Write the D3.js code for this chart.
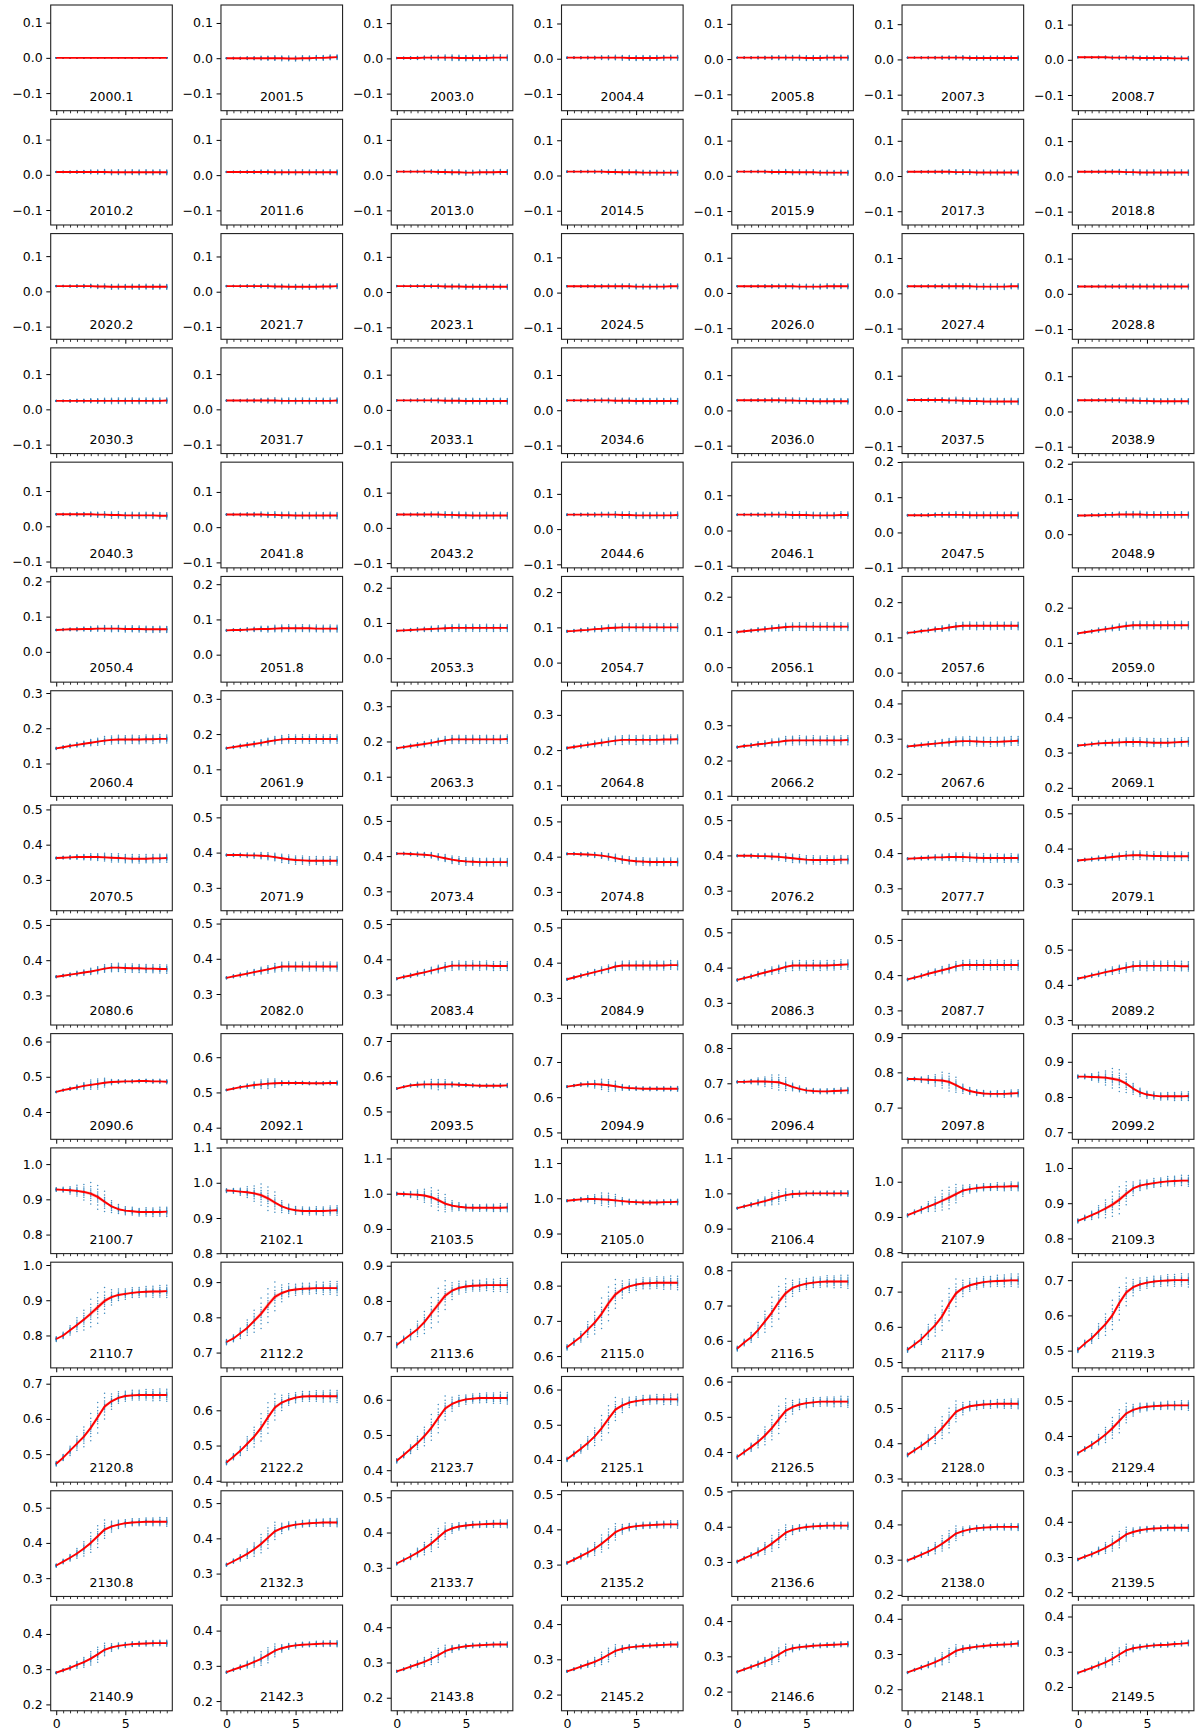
<!DOCTYPE html>
<html>
<head>
<meta charset="utf-8">
<script src="https://cdn.jsdelivr.net/npm/d3@7"></script>
<style>
  html, body { margin: 0; padding: 0; background: #fff; }
  svg { display: block; }
</style>
</head>
<body>
<script>
// ---- data -------------------------------------------------------------
const panelLabels = [
  "2000.1","2001.5","2003.0","2004.4","2005.8","2007.3","2008.7",
  "2010.2","2011.6","2013.0","2014.5","2015.9","2017.3","2018.8",
  "2020.2","2021.7","2023.1","2024.5","2026.0","2027.4","2028.8",
  "2030.3","2031.7","2033.1","2034.6","2036.0","2037.5","2038.9",
  "2040.3","2041.8","2043.2","2044.6","2046.1","2047.5","2048.9",
  "2050.4","2051.8","2053.3","2054.7","2056.1","2057.6","2059.0",
  "2060.4","2061.9","2063.3","2064.8","2066.2","2067.6","2069.1",
  "2070.5","2071.9","2073.4","2074.8","2076.2","2077.7","2079.1",
  "2080.6","2082.0","2083.4","2084.9","2086.3","2087.7","2089.2",
  "2090.6","2092.1","2093.5","2094.9","2096.4","2097.8","2099.2",
  "2100.7","2102.1","2103.5","2105.0","2106.4","2107.9","2109.3",
  "2110.7","2112.2","2113.6","2115.0","2116.5","2117.9","2119.3",
  "2120.8","2122.2","2123.7","2125.1","2126.5","2128.0","2129.4",
  "2130.8","2132.3","2133.7","2135.2","2136.6","2138.0","2139.5",
  "2140.9","2142.3","2143.8","2145.2","2146.6","2148.1","2149.5"
];

const xValues = [0, 0.5, 1, 1.5, 2, 2.5, 3, 3.5, 4, 4.5, 5, 5.5, 6, 6.5, 7, 7.5, 8];
const xMajorTicks = [0, 5];

// mean curve of each panel, one value per x
const curveValues = [
  [0,0,0,0,0,0,0,0,0,0,0,0,0,0,0,0,0],
  [0,0,0,0,0,0,0,0,0,-0.001,-0.001,0,0,0.001,0.001,0.002,0.003],
  [0.001,0.001,0.001,0.001,0.002,0.002,0.002,0.002,0.002,0.001,0.001,0.001,0.001,0.001,0.002,0.002,0.002],
  [0.003,0.003,0.003,0.003,0.003,0.003,0.003,0.003,0.003,0.002,0.002,0.002,0.002,0.002,0.003,0.003,0.003],
  [0.004,0.004,0.004,0.004,0.004,0.004,0.004,0.004,0.004,0.004,0.003,0.003,0.003,0.004,0.004,0.004,0.004],
  [0.005,0.005,0.005,0.005,0.005,0.005,0.005,0.005,0.005,0.004,0.004,0.004,0.004,0.004,0.004,0.004,0.004],
  [0.007,0.007,0.007,0.007,0.007,0.006,0.006,0.006,0.006,0.005,0.005,0.005,0.005,0.005,0.004,0.004,0.004],

  [0.008,0.008,0.008,0.008,0.008,0.008,0.008,0.008,0.007,0.007,0.007,0.007,0.007,0.007,0.007,0.007,0.007],
  [0.009,0.009,0.009,0.009,0.009,0.009,0.009,0.008,0.008,0.008,0.008,0.008,0.008,0.008,0.008,0.008,0.008],
  [0.010,0.010,0.010,0.010,0.010,0.010,0.009,0.009,0.008,0.008,0.007,0.007,0.008,0.008,0.008,0.009,0.009],
  [0.011,0.011,0.011,0.011,0.011,0.011,0.010,0.010,0.009,0.009,0.009,0.008,0.008,0.008,0.008,0.008,0.008],
  [0.012,0.012,0.012,0.012,0.012,0.011,0.011,0.011,0.010,0.010,0.010,0.010,0.009,0.009,0.009,0.009,0.009],
  [0.012,0.012,0.012,0.012,0.012,0.012,0.012,0.011,0.011,0.011,0.010,0.010,0.010,0.010,0.010,0.010,0.010],
  [0.013,0.013,0.013,0.013,0.013,0.013,0.013,0.012,0.012,0.011,0.011,0.011,0.011,0.011,0.011,0.011,0.011],

  [0.015,0.015,0.015,0.015,0.015,0.015,0.014,0.014,0.013,0.013,0.013,0.013,0.013,0.013,0.013,0.013,0.013],
  [0.016,0.016,0.016,0.016,0.016,0.016,0.016,0.015,0.015,0.014,0.014,0.014,0.014,0.014,0.015,0.015,0.016],
  [0.017,0.017,0.017,0.017,0.017,0.017,0.017,0.016,0.016,0.016,0.015,0.015,0.015,0.015,0.015,0.015,0.015],
  [0.018,0.018,0.018,0.018,0.018,0.018,0.018,0.018,0.018,0.018,0.017,0.017,0.017,0.017,0.017,0.018,0.018],
  [0.019,0.019,0.019,0.019,0.019,0.019,0.019,0.019,0.019,0.018,0.018,0.018,0.018,0.019,0.019,0.019,0.019],
  [0.020,0.020,0.020,0.020,0.020,0.020,0.020,0.020,0.020,0.020,0.019,0.019,0.019,0.019,0.019,0.020,0.020],
  [0.021,0.021,0.021,0.021,0.021,0.021,0.021,0.021,0.021,0.021,0.021,0.021,0.021,0.021,0.021,0.021,0.021],

  [0.024,0.024,0.024,0.024,0.024,0.024,0.024,0.024,0.024,0.024,0.024,0.024,0.024,0.024,0.024,0.024,0.025],
  [0.025,0.025,0.025,0.025,0.025,0.025,0.025,0.025,0.024,0.024,0.024,0.024,0.024,0.024,0.024,0.024,0.025],
  [0.027,0.027,0.027,0.027,0.027,0.027,0.027,0.026,0.026,0.026,0.025,0.025,0.025,0.025,0.025,0.025,0.025],
  [0.028,0.028,0.028,0.028,0.028,0.028,0.028,0.027,0.027,0.027,0.026,0.026,0.026,0.026,0.026,0.026,0.026],
  [0.029,0.029,0.029,0.029,0.029,0.029,0.029,0.028,0.028,0.027,0.027,0.026,0.026,0.026,0.026,0.026,0.026],
  [0.031,0.031,0.031,0.031,0.031,0.031,0.030,0.030,0.029,0.028,0.028,0.027,0.027,0.027,0.027,0.027,0.027],
  [0.032,0.032,0.032,0.032,0.032,0.032,0.032,0.031,0.031,0.030,0.030,0.029,0.029,0.029,0.029,0.029,0.029],

  [0.034,0.034,0.034,0.034,0.034,0.034,0.033,0.033,0.032,0.032,0.031,0.031,0.031,0.031,0.031,0.030,0.030],
  [0.036,0.036,0.036,0.036,0.036,0.036,0.035,0.035,0.034,0.034,0.033,0.033,0.033,0.033,0.033,0.033,0.033],
  [0.038,0.038,0.038,0.038,0.038,0.038,0.038,0.037,0.037,0.036,0.036,0.035,0.035,0.035,0.035,0.035,0.035],
  [0.041,0.041,0.041,0.041,0.041,0.041,0.041,0.041,0.040,0.040,0.039,0.039,0.039,0.039,0.039,0.039,0.040],
  [0.045,0.045,0.045,0.045,0.045,0.045,0.045,0.045,0.044,0.044,0.044,0.043,0.043,0.043,0.043,0.044,0.044],
  [0.049,0.049,0.049,0.049,0.050,0.050,0.050,0.050,0.050,0.049,0.049,0.049,0.049,0.049,0.049,0.049,0.049],
  [0.053,0.053,0.054,0.054,0.055,0.055,0.056,0.056,0.056,0.056,0.055,0.055,0.055,0.055,0.055,0.055,0.055],

  [0.062,0.063,0.064,0.064,0.065,0.065,0.066,0.066,0.066,0.066,0.065,0.065,0.065,0.064,0.064,0.064,0.064],
  [0.069,0.070,0.070,0.071,0.072,0.073,0.073,0.074,0.075,0.075,0.075,0.075,0.075,0.074,0.074,0.074,0.074],
  [0.078,0.079,0.080,0.081,0.082,0.083,0.084,0.085,0.086,0.086,0.086,0.086,0.086,0.086,0.086,0.086,0.086],
  [0.089,0.090,0.092,0.093,0.095,0.096,0.098,0.099,0.100,0.100,0.100,0.100,0.100,0.100,0.100,0.100,0.100],
  [0.100,0.102,0.104,0.106,0.108,0.110,0.112,0.114,0.115,0.115,0.115,0.115,0.115,0.115,0.115,0.115,0.115],
  [0.113,0.115,0.118,0.120,0.123,0.125,0.128,0.131,0.133,0.133,0.133,0.133,0.133,0.133,0.133,0.133,0.133],
  [0.127,0.130,0.133,0.136,0.139,0.142,0.145,0.148,0.150,0.150,0.150,0.150,0.150,0.150,0.150,0.150,0.150],

  [0.143,0.146,0.150,0.153,0.156,0.159,0.162,0.165,0.167,0.168,0.168,0.168,0.168,0.169,0.169,0.170,0.170],
  [0.160,0.163,0.166,0.169,0.172,0.175,0.179,0.182,0.185,0.186,0.186,0.186,0.186,0.186,0.186,0.186,0.186],
  [0.181,0.184,0.187,0.190,0.193,0.196,0.200,0.203,0.206,0.206,0.206,0.206,0.206,0.206,0.206,0.206,0.207],
  [0.206,0.209,0.212,0.215,0.218,0.221,0.224,0.227,0.229,0.229,0.229,0.229,0.229,0.229,0.230,0.230,0.231],
  [0.238,0.241,0.243,0.246,0.248,0.251,0.253,0.256,0.257,0.257,0.257,0.257,0.257,0.257,0.257,0.257,0.258],
  [0.278,0.280,0.282,0.284,0.286,0.288,0.290,0.292,0.293,0.293,0.292,0.291,0.291,0.291,0.292,0.293,0.294],
  [0.320,0.322,0.324,0.326,0.327,0.328,0.329,0.330,0.330,0.330,0.329,0.328,0.328,0.328,0.329,0.330,0.331],

  [0.362,0.363,0.364,0.365,0.365,0.365,0.365,0.364,0.363,0.362,0.361,0.360,0.360,0.360,0.361,0.361,0.362],
  [0.393,0.393,0.393,0.392,0.392,0.391,0.390,0.387,0.384,0.381,0.379,0.378,0.377,0.377,0.377,0.377,0.377],
  [0.407,0.407,0.406,0.405,0.404,0.402,0.398,0.394,0.390,0.387,0.385,0.384,0.383,0.383,0.383,0.383,0.383],
  [0.408,0.408,0.407,0.406,0.405,0.403,0.400,0.396,0.392,0.389,0.387,0.386,0.385,0.385,0.385,0.385,0.385],
  [0.399,0.399,0.399,0.398,0.398,0.397,0.396,0.394,0.392,0.390,0.388,0.387,0.387,0.387,0.387,0.388,0.388],
  [0.384,0.385,0.386,0.387,0.388,0.388,0.389,0.389,0.389,0.388,0.387,0.386,0.386,0.386,0.386,0.386,0.386],
  [0.366,0.368,0.370,0.372,0.374,0.376,0.378,0.380,0.381,0.381,0.380,0.379,0.379,0.378,0.378,0.378,0.378],

  [0.353,0.356,0.359,0.362,0.365,0.368,0.372,0.376,0.379,0.379,0.378,0.377,0.377,0.376,0.376,0.375,0.375],
  [0.346,0.350,0.354,0.358,0.362,0.366,0.370,0.374,0.378,0.378,0.378,0.378,0.378,0.378,0.378,0.378,0.378],
  [0.345,0.350,0.354,0.359,0.363,0.368,0.373,0.378,0.382,0.382,0.382,0.382,0.382,0.382,0.381,0.381,0.381],
  [0.353,0.358,0.363,0.368,0.373,0.378,0.383,0.389,0.392,0.392,0.392,0.392,0.392,0.392,0.392,0.393,0.393],
  [0.365,0.370,0.375,0.381,0.386,0.391,0.396,0.402,0.406,0.406,0.406,0.406,0.406,0.406,0.407,0.408,0.409],
  [0.388,0.393,0.398,0.404,0.409,0.414,0.419,0.425,0.429,0.429,0.429,0.429,0.429,0.429,0.429,0.429,0.429],
  [0.418,0.422,0.427,0.431,0.436,0.440,0.445,0.449,0.453,0.454,0.454,0.454,0.454,0.454,0.454,0.453,0.453],

  [0.457,0.462,0.466,0.470,0.474,0.477,0.480,0.483,0.485,0.486,0.487,0.487,0.488,0.488,0.487,0.487,0.486],
  [0.507,0.511,0.515,0.518,0.521,0.523,0.525,0.526,0.527,0.527,0.527,0.527,0.526,0.526,0.526,0.527,0.527],
  [0.565,0.570,0.574,0.576,0.577,0.577,0.577,0.577,0.577,0.576,0.575,0.574,0.573,0.573,0.573,0.573,0.574],
  [0.630,0.633,0.636,0.637,0.637,0.636,0.634,0.631,0.628,0.626,0.625,0.624,0.624,0.624,0.624,0.624,0.624],
  [0.704,0.704,0.705,0.705,0.705,0.704,0.703,0.697,0.690,0.684,0.680,0.678,0.677,0.677,0.678,0.679,0.680],
  [0.781,0.781,0.780,0.779,0.778,0.777,0.773,0.764,0.754,0.747,0.743,0.740,0.739,0.739,0.739,0.740,0.741],
  [0.858,0.858,0.857,0.856,0.855,0.852,0.848,0.838,0.824,0.813,0.807,0.804,0.802,0.802,0.802,0.802,0.803],

  [0.928,0.927,0.926,0.924,0.921,0.916,0.907,0.893,0.880,0.872,0.868,0.866,0.864,0.864,0.864,0.864,0.865],
  [0.978,0.977,0.975,0.973,0.970,0.965,0.956,0.944,0.933,0.926,0.922,0.920,0.920,0.920,0.920,0.921,0.922],
  [1.000,0.999,0.998,0.997,0.995,0.990,0.982,0.972,0.966,0.963,0.961,0.960,0.960,0.960,0.960,0.960,0.961],
  [0.993,0.995,0.997,0.998,0.998,0.997,0.996,0.994,0.992,0.990,0.989,0.988,0.988,0.988,0.989,0.989,0.990],
  [0.958,0.963,0.968,0.973,0.978,0.984,0.990,0.995,0.998,0.999,1.000,1.000,1.000,1.000,1.000,1.000,1.000],
  [0.905,0.913,0.921,0.929,0.937,0.946,0.955,0.965,0.975,0.979,0.982,0.984,0.985,0.986,0.986,0.987,0.987],
  [0.850,0.858,0.866,0.875,0.885,0.896,0.910,0.927,0.942,0.950,0.954,0.957,0.960,0.962,0.963,0.964,0.964],

  [0.790,0.800,0.815,0.830,0.845,0.862,0.880,0.898,0.909,0.915,0.918,0.921,0.923,0.924,0.925,0.925,0.926],
  [0.730,0.740,0.755,0.770,0.790,0.810,0.835,0.858,0.869,0.876,0.879,0.881,0.882,0.883,0.883,0.883,0.883],
  [0.675,0.690,0.705,0.720,0.740,0.765,0.790,0.815,0.829,0.837,0.841,0.843,0.844,0.845,0.845,0.845,0.845],
  [0.625,0.640,0.655,0.675,0.695,0.720,0.750,0.775,0.790,0.798,0.803,0.806,0.807,0.808,0.808,0.808,0.808],
  [0.578,0.595,0.610,0.630,0.655,0.680,0.710,0.735,0.750,0.757,0.762,0.765,0.767,0.768,0.768,0.768,0.768],
  [0.535,0.550,0.565,0.585,0.605,0.630,0.665,0.695,0.710,0.718,0.723,0.727,0.729,0.730,0.731,0.732,0.732],
  [0.502,0.520,0.535,0.555,0.575,0.600,0.635,0.665,0.680,0.688,0.693,0.696,0.698,0.699,0.700,0.700,0.700],

  [0.473,0.490,0.510,0.530,0.550,0.575,0.605,0.635,0.650,0.660,0.665,0.667,0.668,0.668,0.668,0.668,0.668],
  [0.452,0.468,0.485,0.505,0.525,0.550,0.580,0.608,0.622,0.630,0.636,0.639,0.640,0.640,0.640,0.640,0.640],
  [0.427,0.443,0.460,0.477,0.497,0.520,0.548,0.575,0.588,0.596,0.601,0.603,0.605,0.605,0.605,0.605,0.605],
  [0.402,0.417,0.432,0.448,0.467,0.490,0.517,0.543,0.555,0.563,0.567,0.570,0.572,0.572,0.572,0.572,0.572],
  [0.386,0.400,0.414,0.429,0.447,0.468,0.493,0.517,0.528,0.535,0.539,0.541,0.543,0.543,0.543,0.543,0.543],
  [0.367,0.380,0.393,0.407,0.423,0.443,0.466,0.489,0.499,0.505,0.508,0.510,0.511,0.512,0.512,0.512,0.512],
  [0.351,0.363,0.375,0.389,0.404,0.422,0.443,0.464,0.474,0.480,0.483,0.485,0.486,0.487,0.487,0.487,0.487],

  [0.336,0.347,0.358,0.370,0.384,0.400,0.419,0.438,0.447,0.452,0.456,0.458,0.459,0.460,0.460,0.460,0.460],
  [0.325,0.335,0.345,0.356,0.369,0.384,0.402,0.420,0.429,0.435,0.439,0.441,0.443,0.444,0.445,0.445,0.445],
  [0.312,0.322,0.332,0.343,0.355,0.369,0.386,0.403,0.412,0.417,0.420,0.422,0.423,0.424,0.425,0.425,0.425],
  [0.305,0.314,0.324,0.334,0.345,0.359,0.375,0.392,0.401,0.406,0.409,0.411,0.412,0.413,0.414,0.414,0.414],
  [0.301,0.310,0.319,0.328,0.339,0.352,0.367,0.383,0.391,0.396,0.399,0.401,0.402,0.403,0.403,0.403,0.403],
  [0.298,0.306,0.314,0.323,0.333,0.345,0.359,0.374,0.381,0.386,0.389,0.391,0.392,0.393,0.393,0.393,0.393],
  [0.293,0.301,0.308,0.317,0.326,0.337,0.350,0.364,0.371,0.376,0.379,0.381,0.382,0.383,0.383,0.383,0.383],

  [0.290,0.297,0.304,0.312,0.320,0.330,0.342,0.355,0.362,0.366,0.369,0.371,0.372,0.373,0.374,0.374,0.374],
  [0.282,0.289,0.296,0.303,0.311,0.320,0.331,0.343,0.350,0.355,0.358,0.360,0.361,0.362,0.363,0.363,0.363],
  [0.275,0.281,0.288,0.295,0.302,0.311,0.321,0.332,0.339,0.343,0.346,0.348,0.349,0.350,0.351,0.351,0.351],
  [0.266,0.272,0.279,0.286,0.293,0.302,0.313,0.324,0.330,0.334,0.336,0.338,0.339,0.340,0.341,0.342,0.342],
  [0.256,0.263,0.270,0.277,0.285,0.294,0.305,0.317,0.323,0.326,0.328,0.330,0.331,0.332,0.333,0.334,0.335],
  [0.248,0.255,0.262,0.269,0.277,0.286,0.297,0.309,0.315,0.318,0.321,0.323,0.325,0.326,0.327,0.328,0.330],
  [0.240,0.247,0.254,0.262,0.270,0.280,0.292,0.304,0.310,0.313,0.316,0.318,0.319,0.320,0.322,0.323,0.325]
];

// half-width of the sample cloud in each panel
const spreadScale = [
  0.000,0.007,0.008,0.007,0.007,0.006,0.006,
  0.007,0.007,0.007,0.007,0.007,0.007,0.008,
  0.007,0.007,0.007,0.007,0.007,0.008,0.007,
  0.008,0.008,0.008,0.008,0.008,0.009,0.008,
  0.009,0.009,0.009,0.009,0.009,0.009,0.009,
  0.009,0.010,0.010,0.011,0.011,0.011,0.011,
  0.012,0.012,0.012,0.013,0.013,0.013,0.012,
  0.012,0.012,0.011,0.011,0.012,0.012,0.012,
  0.012,0.013,0.013,0.013,0.014,0.014,0.014,
  0.015,0.014,0.015,0.017,0.022,0.026,0.032,
  0.035,0.035,0.030,0.020,0.020,0.032,0.040,
  0.045,0.050,0.050,0.050,0.048,0.048,0.048,
  0.045,0.045,0.042,0.040,0.040,0.036,0.034,
  0.032,0.030,0.028,0.028,0.026,0.025,0.024,
  0.022,0.022,0.020,0.020,0.020,0.020,0.020
];

// which spread profile each row of panels follows
const rowSpreadKind = ["flat","flat","flat","flat","flat","flat","flat","flat","flat",
                       "shift","shift","shift","shift","shift","shift"];
const flatSpreadProfile  = [0.25,0.35,0.45,0.55,0.65,0.75,0.85,0.95,1,1,1,1,1,1,1,1,1];
const shiftSpreadProfile = [0.15,0.2,0.3,0.45,0.65,0.9,1,0.85,0.5,0.38,0.33,0.32,0.32,0.34,0.36,0.38,0.4];

// relative positions of the samples drawn at each x
const sampleOffsets = [-1, -0.66, -0.42, -0.26, -0.14, -0.05, 0.03, 0.12, 0.24, 0.4, 0.62, 0.92];

// ---- layout -----------------------------------------------------------
const W = 1198, H = 1735;
const nCols = 7, nRows = 15;
const left0 = 50.7, colStep = 170.27, top0 = 5, rowStep = 114.29;
const pw = 121.6, ph = 105.7;
const font = "'DejaVu Sans', sans-serif";
const fontSize = 12.5;

const svg = d3.select("body").append("svg")
  .attr("width", W).attr("height", H)
  .attr("viewBox", `0 0 ${W} ${H}`);

svg.append("rect").attr("width", W).attr("height", H).attr("fill", "#fff");

const x = d3.scaleLinear().domain([-0.4, 8.4]).range([0, pw]);
const fmt = d3.format(".1f");

panelLabels.forEach((label, i) => {
  const r = Math.floor(i / nCols), c = i % nCols;
  const vals = curveValues[i];
  const mid = (d3.min(vals) + d3.max(vals)) / 2;
  const y = d3.scaleLinear().domain([mid - 0.15, mid + 0.15]).range([ph, 0]);

  const g = svg.append("g")
    .attr("transform", `translate(${left0 + c * colStep},${top0 + r * rowStep})`);

  const clipId = "clip" + i;
  g.append("clipPath").attr("id", clipId)
    .append("rect").attr("width", pw).attr("height", ph);

  const plot = g.append("g").attr("clip-path", `url(#${clipId})`);

  // samples
  const profile = rowSpreadKind[r] === "flat" ? flatSpreadProfile : shiftSpreadProfile;
  const samples = [];
  const bands = [];
  xValues.forEach((xv, k) => {
    const sign = k % 2 ? -1 : 1;
    const pts = sampleOffsets.map(o => vals[k] + sign * o * spreadScale[i] * profile[k]);
    pts.forEach(v => samples.push([xv, v]));
    const se = (d3.deviation(pts) || 0) / Math.sqrt(pts.length);
    bands.push({ x: xv, lo: vals[k] - se, hi: vals[k] + se });
  });

  plot.selectAll("circle").data(samples).join("circle")
    .attr("cx", d => x(d[0])).attr("cy", d => y(d[1]))
    .attr("r", 0.75).attr("fill", "#1f77b4").attr("fill-opacity", 0.85);

  plot.append("path").datum(bands)
    .attr("fill", "#ff0000").attr("fill-opacity", 0.25)
    .attr("d", d3.area().x(d => x(d.x)).y0(d => y(d.lo)).y1(d => y(d.hi)));

  plot.append("path").datum(vals)
    .attr("fill", "none").attr("stroke", "#ff0000").attr("stroke-width", 1.9)
    .attr("stroke-linejoin", "round")
    .attr("d", d3.line().x((d, k) => x(xValues[k])).y(d => y(d)));

  // y axis
  const lo = mid - 0.15, hi = mid + 0.15, tol = 0.0015;
  const yTicks = d3.range(Math.ceil((lo - tol) * 10), Math.floor((hi + tol) * 10) + 1).map(k => k / 10);
  const ya = g.append("g")
    .call(d3.axisLeft(y).tickValues(yTicks).tickFormat(fmt).tickSize(4.4).tickPadding(3.6));
  ya.select(".domain").remove();
  ya.attr("font-family", font).attr("font-size", fontSize);
  ya.selectAll("line").attr("stroke", "#000").attr("stroke-width", 1);
  ya.selectAll("text").attr("fill", "#000");

  // x axis: minor ticks at every sample position, major ticks at 0 and 5
  const xm = g.append("g").attr("transform", `translate(0,${ph})`)
    .call(d3.axisBottom(x).tickValues(xValues.filter(v => !xMajorTicks.includes(v))).tickFormat("").tickSize(2.6));
  xm.select(".domain").remove();
  xm.selectAll("line").attr("stroke", "#000").attr("stroke-width", 0.8);

  const xM = g.append("g").attr("transform", `translate(0,${ph})`)
    .call(d3.axisBottom(x).tickValues(xMajorTicks)
      .tickFormat(r === nRows - 1 ? d3.format("d") : "").tickSize(4.4).tickPadding(4));
  xM.select(".domain").remove();
  xM.attr("font-family", font).attr("font-size", fontSize);
  xM.selectAll("line").attr("stroke", "#000").attr("stroke-width", 1);
  xM.selectAll("text").attr("fill", "#000");

  // frame
  g.append("rect").attr("width", pw).attr("height", ph)
    .attr("fill", "none").attr("stroke", "#222").attr("stroke-width", 1.1);

  // panel label
  g.append("text")
    .attr("x", pw / 2).attr("y", ph - 9.8)
    .attr("text-anchor", "middle")
    .attr("font-family", font).attr("font-size", fontSize).attr("fill", "#000")
    .text(label);
});
</script>
</body>
</html>
